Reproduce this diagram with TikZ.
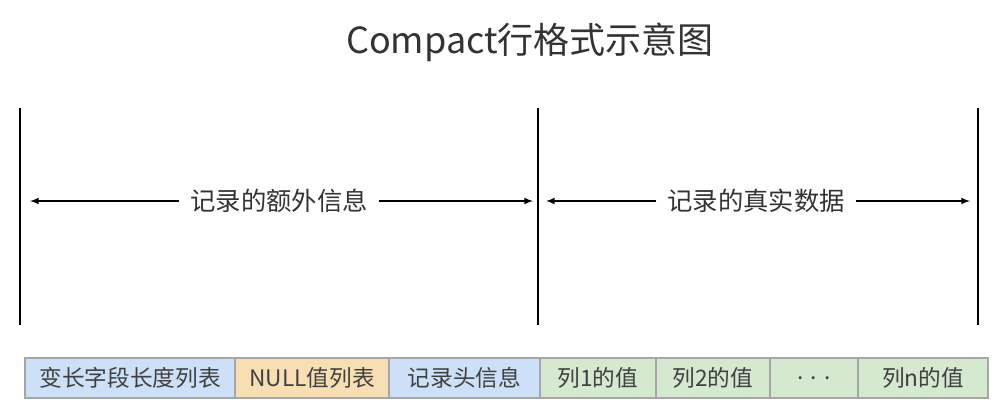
\documentclass[tikz,border=0pt]{standalone}
\usepackage{fontspec}
\setmainfont{Noto Sans CJK SC}
\definecolor{cellblue}{HTML}{CCE0F8}
\definecolor{cellorange}{HTML}{F7DFB3}
\definecolor{cellgreen}{HTML}{D5E8D0}
\begin{document}
\begin{tikzpicture}[x=0.75pt,y=-0.75pt,
  bar/.style={line width=1.8pt},
  span/.style={line width=1.2pt,->,>=latex},
  cell/.style={draw=gray!70,line width=0.8pt},
  lbl/.style={font=\fontsize{17}{19}\selectfont,text=black!75,inner sep=8pt},
  mid/.style={font=\fontsize{19}{21}\selectfont,text=black!80,inner sep=8pt}]
\useasboundingbox (0,0) rectangle (1005,419);
% title
\node[font=\fontsize{27}{30}\selectfont,text=black!80] (title) at (530,42) {Compact行格式示意图};
% vertical bars
\coordinate (l1) at (20,108); \coordinate (l2) at (20,325);
\coordinate (m1) at (538,108); \coordinate (m2) at (538,325);
\coordinate (r1) at (978,108); \coordinate (r2) at (978,325);
\draw[bar] (l1) -- (l2);
\draw[bar] (m1) -- (m2);
\draw[bar] (r1) -- (r2);
% spans
\node[mid] (extra) at (279,201) {记录的额外信息};
\node[mid] (real) at (756,201) {记录的真实数据};
\coordinate (a1) at (30,201); \coordinate (a2) at (533,201);
\coordinate (b1) at (546,201); \coordinate (b2) at (970,201);
\draw[span] (extra) -- (a1);
\draw[span] (extra) -- (a2);
\draw[span] (real) -- (b1);
\draw[span] (real) -- (b2);
% cells
\foreach \xa/\xb/\col/\txt [count=\i] in {
  25/235/cellblue/变长字段长度列表,
  235/389/cellorange/NULL值列表,
  389/540/cellblue/记录头信息,
  540/656/cellgreen/列1的值,
  656/770/cellgreen/列2的值,
  770/858/cellgreen/{.\,\,.\,\,.},
  858/988/cellgreen/列n的值}{
  \draw[cell,fill=\col] (\xa,358) rectangle (\xb,398);
  \node[lbl] (c\i) at ({(\xa+\xb)/2},378) {\txt};
}
\end{tikzpicture}
\end{document}
